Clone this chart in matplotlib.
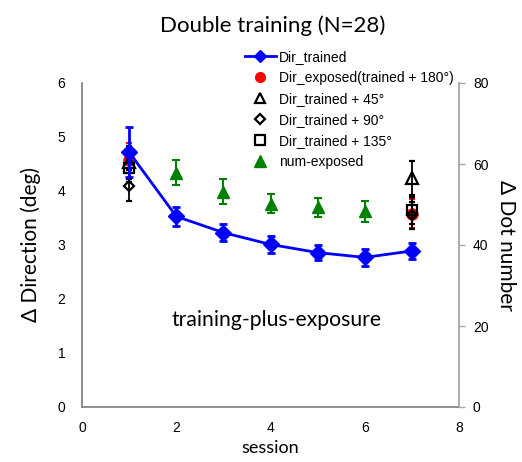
import matplotlib
matplotlib.use("Agg")
import matplotlib.pyplot as plt
from matplotlib.lines import Line2D

sessions = [1, 2, 3, 4, 5, 6, 7]
dir_trained = [4.72, 3.53, 3.23, 3.01, 2.86, 2.77, 2.89]
dir_trained_err = [0.46, 0.18, 0.16, 0.16, 0.14, 0.16, 0.15]

test_sessions = [1, 7]
dir_exposed = [4.57, 3.58]
dir_exposed_err = [0.32, 0.27]
dir_45 = [4.53, 4.24]
dir_45_err = [0.30, 0.31]
dir_90 = [4.10, 3.55]
dir_90_err = [0.28, 0.25]
dir_135 = [4.42, 3.64]
dir_135_err = [0.25, 0.25]

num_sessions = [2, 3, 4, 5, 6]
num_exposed = [57.9, 53.2, 50.2, 49.3, 48.3]
num_exposed_err = [3.0, 3.0, 2.4, 2.4, 2.5]

W, H = 522, 462
fig = plt.figure(figsize=(W / 100, H / 100), dpi=100)
L, R, T, B = 82, 459, 83, 407
ax = fig.add_axes([L / W, 1 - B / H, (R - L) / W, (B - T) / H])
ax2 = ax.twinx()

tickfont = "Liberation Sans"
labfont = "Lato"

# exposed (red)
ax.errorbar(test_sessions, dir_exposed, yerr=dir_exposed_err, fmt="o", color="red",
            ms=8, capsize=2.5, elinewidth=1.5, capthick=1.5, zorder=3)
# black open markers
for vals, errs, mk, ms in [(dir_45, dir_45_err, "^", 8), (dir_90, dir_90_err, "D", 5.5),
                           (dir_135, dir_135_err, "s", 7)]:
    ax.errorbar(test_sessions, vals, yerr=errs, fmt=mk, color="black", mfc="none",
                mec="black", mew=1.6, ms=ms, capsize=2.5, elinewidth=1.3, capthick=1.3, zorder=4)
# trained blue
ax.errorbar(sessions, dir_trained, yerr=dir_trained_err, fmt="-D", color="#0000ff",
            ms=8, lw=2, capsize=3, elinewidth=2, capthick=2, zorder=5)

ax2.errorbar(num_sessions, num_exposed, yerr=num_exposed_err, fmt="^", color="#008000",
             ms=9, capsize=3, elinewidth=1.5, capthick=1.5, zorder=5)

ax.set_xlim(0, 8)
ax.set_ylim(0, 6)
ax2.set_ylim(0, 80)
ax.set_xticks([0, 2, 4, 6, 8])
ax.set_yticks([0, 1, 2, 3, 4, 5, 6])
ax2.set_yticks([0, 20, 40, 60, 80])

for a in (ax, ax2):
    a.spines["top"].set_visible(False)
    for s in a.spines.values():
        s.set_color("#868686")
        s.set_linewidth(1.3)
ax.spines["right"].set_visible(False)
ax2.spines["left"].set_visible(False)
ax2.spines["bottom"].set_visible(False)
ax2.spines["right"].set_color("#a6a6a6")

ax.tick_params(axis="both", length=0, labelsize=10, pad=12)
ax.tick_params(axis="x", pad=10)
ax2.tick_params(axis="y", length=4, width=1, color="#a6a6a6", direction="out", labelsize=10, pad=6)
for lab in ax.get_xticklabels() + ax.get_yticklabels() + ax2.get_yticklabels():
    lab.set_fontfamily(tickfont)

ax.set_ylabel("Δ Direction (deg)", fontsize=15, family=labfont, labelpad=12)
ax2.set_ylabel("Δ Dot number", fontsize=15, family=labfont, rotation=-90, labelpad=20)
ax.set_xlabel("session", fontsize=13, family=labfont, labelpad=4)

fig.text(273 / W, 1 - 26 / H, "Double training (N=28)", ha="center", va="center",
         fontsize=16, family=labfont)
ax.text(4.12, 1.62, "training-plus-exposure", ha="center", va="center",
        fontsize=15.2, family=labfont)

handles = [
    Line2D([], [], color="#0000ff", marker="D", lw=2, ms=6),
    Line2D([], [], color="red", marker="o", ls="none", ms=7),
    Line2D([], [], color="black", marker="^", mfc="none", mew=1.6, ls="none", ms=7),
    Line2D([], [], color="black", marker="D", mfc="none", mew=1.6, ls="none", ms=5),
    Line2D([], [], color="black", marker="s", mfc="none", mew=1.6, ls="none", ms=6.5),
    Line2D([], [], color="#008000", marker="^", ls="none", ms=8),
]
labels = ["Dir_trained", "Dir_exposed(trained + 180°)", "Dir_trained + 45°",
          "Dir_trained + 90°", "Dir_trained + 135°", "num-exposed"]
fig.legend(handles, labels, loc="upper left", bbox_to_anchor=(245 / W, 1 - 50 / H),
           frameon=False, prop={"family": tickfont, "size": 10}, handlelength=2.2,
           handletextpad=0.25, labelspacing=0.5, borderpad=0, borderaxespad=0)

fig.savefig("out.png", dpi=100)
